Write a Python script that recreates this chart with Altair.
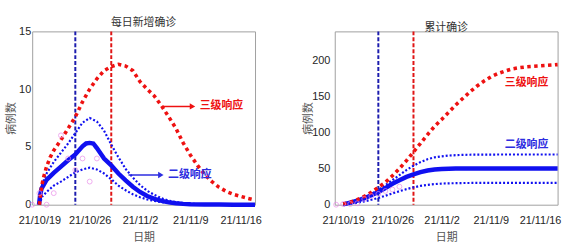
import altair as alt
import pandas as pd

CJK = "Noto Sans CJK SC"
NUM = "Liberation Sans Narrow, Liberation Sans, Arial"

# ---- x tick labels (days since 2021-10-18) ----
tick_days = [1, 8, 15, 22, 29]
tick_labels = ["21/10/19", "21/10/26", "21/11/2", "21/11/9", "21/11/16"]

# response start lines (days since 2021-10-18)
level2_day = 6   # 二级响应 (blue)
level3_day = 11  # 三级响应 (red)

# ---- observed cases (pink circles) ----
obs_days = [0, 1, 2, 3, 4, 5, 6, 7, 8, 9]
obs_daily = [0, 1, 0, 1, 6, 4, 3, 4, 2, 4]
obs_cum = [0, 1, 1, 2, 8, 12, 15, 19, 21, 25]

# ---- daily new cases ----
red_d_x = [1.0, 1.15, 1.35, 1.6, 2.0, 2.5, 3, 4, 5, 6, 7, 8, 9, 10, 11, 12, 13, 14, 15, 16,
           17, 18, 19, 20, 21, 22, 23, 24, 25, 26, 27, 28, 29, 30, 31]
red_d_y = [0, 0.8, 1.7, 2.4, 3.3, 4.1, 4.7, 5.6, 6.6, 7.6, 8.9, 10.0, 10.9, 11.6, 11.95, 12.15,
           12.0, 11.6, 10.65, 10.0, 9.4, 8.55, 7.6, 6.6, 5.35, 4.3, 3.4, 2.6, 2.0, 1.5, 1.15,
           0.9, 0.72, 0.55, 0.4]

blue_d_x = [0.95, 1.1, 1.3, 2, 3, 4, 5, 6, 7, 7.5, 8, 8.5, 9, 10, 11, 12, 13, 14, 15, 16, 17,
            18, 19, 20, 21, 22, 24, 26, 28, 31]
blue_d_y = [0, 0.8, 1.4, 2.15, 2.75, 3.3, 3.85, 4.35, 5.05, 5.3, 5.35, 5.3, 4.9, 4.0, 3.4,
            2.7, 2.1, 1.55, 1.1, 0.75, 0.5, 0.33, 0.2, 0.12, 0.07, 0.04, 0.02, 0.01, 0, 0]

up_d_x = [1.0, 1.4, 2, 3, 4, 5, 6, 7, 8, 9, 10, 11, 12, 13, 14, 15, 16, 17, 18, 19, 20, 21,
          23, 26, 31]
up_d_y = [0, 1.8, 2.7, 3.7, 4.5, 5.3, 6.2, 7.1, 7.5, 7.2, 6.4, 5.2, 4.1, 3.1, 2.35, 1.7, 1.2,
          0.85, 0.55, 0.35, 0.22, 0.13, 0.05, 0.01, 0]

lo_d_x = [1.0, 1.4, 2, 3, 4, 5, 6, 7, 8, 9, 10, 11, 12, 13, 14, 15, 16, 17, 18, 19, 20, 21,
          23, 26, 31]
lo_d_y = [0, 0.7, 1.1, 1.65, 2.0, 2.4, 2.8, 3.05, 3.2, 3.05, 2.7, 2.2, 1.65, 1.25, 0.9, 0.65,
          0.45, 0.32, 0.22, 0.15, 0.1, 0.06, 0.03, 0.01, 0]

# ---- cumulative cases ----
cum_x = [1, 2, 3, 4, 5, 6, 7, 8, 9, 10, 11, 12, 13, 14, 15, 16, 17, 18, 19, 20, 21, 22, 23,
         24, 25, 26, 27, 28, 29, 30, 31, 31.5]
red_c_y = [1, 3.5, 7, 11.5, 17, 24, 31, 40, 50, 61, 73, 85, 97, 108.5, 118, 128, 138, 147, 156,
           164, 171, 177, 181.5, 185, 188, 189.7, 190.8, 191.6, 192.3, 193, 193.6, 194]
blue_c_y = [0.5, 2.8, 5.5, 9, 13, 17.5, 23, 29, 34, 38.5, 42, 45, 47.3, 48.7, 49.4, 49.8, 50,
            50, 50, 50, 50, 50, 50, 50, 50, 50, 50, 50, 50, 50, 50, 50]
up_c_y = [0.5, 2.5, 5.8, 10, 15, 20.5, 27, 34, 41, 48, 54, 59, 63, 65.5, 67, 68, 68.6, 69,
          69.2, 69.3, 69.4, 69.4, 69.5, 69.5, 69.5, 69.5, 69.5, 69.5, 69.5, 69.5, 69.5, 69.5]
lo_c_y = [0.3, 1.2, 2.7, 4.6, 6.8, 9.4, 12.4, 15.6, 18.7, 21.5, 24, 26, 27.5, 28.5, 29.2, 29.6,
          29.8, 30, 30.1, 30.1, 30.2, 30.2, 30.2, 30.2, 30.2, 30.2, 30.2, 30.2, 30.2, 30.2,
          30.2, 30.2]

# ---- annotations ----
lbl3 = "三级响应"
lbl2 = "二级响应"
ann_left = {"red": {"x0": 18.2, "x1": 22.3, "y": 8.5, "tx": 23.3},
            "blue": {"x0": 13.4, "x1": 17.9, "y": 2.57, "tx": 18.9}}
ann_right = {"red": {"tx": 24.0, "y": 169}, "blue": {"tx": 24.0, "y": 83}}

RED = "#ee1111"
BLUE = "#1010f0"
BLUE_T = "#2d2de0"
VBLUE = "#1c1cae"
VRED = "#e01515"
PINK = "#e98ae9"


def df(xs, ys):
    return pd.DataFrame({"day": xs, "v": ys})


def panel(title, xdom, ydom, yvals, ylp, ytx, series, obs_y, anns, arrows):
    xenc = alt.X("day:Q", scale=alt.Scale(domain=xdom, nice=False, zero=False),
                 axis=alt.Axis(values=tick_days, title="日期", labelPadding=10, titlePadding=6,
                               labelExpr="%s[indexof(%s, datum.value)]" % (
                                   str(tick_labels), str(tick_days))))
    yenc = alt.Y("v:Q", scale=alt.Scale(domain=ydom, nice=False),
                 axis=alt.Axis(values=yvals, title="病例数", labelPadding=ylp, titlePadding=0,
                               titleX=ytx, titleBaseline="bottom"))
    layers = []
    vl = pd.DataFrame({"day": [level2_day, level3_day], "c": [VBLUE, VRED]})
    layers.append(alt.Chart(vl).mark_rule(strokeWidth=2, strokeDash=[4, 2]).encode(
        x=xenc, color=alt.Color("c:N", scale=None)))
    red, up, mid, lo = series
    layers.append(alt.Chart(df(*lo)).mark_line(color=BLUE, strokeWidth=2.2, strokeDash=[2, 2])
                  .encode(x=xenc, y=yenc))
    layers.append(alt.Chart(df(*up)).mark_line(color=BLUE, strokeWidth=2.2, strokeDash=[2, 2])
                  .encode(x=xenc, y=yenc))
    layers.append(alt.Chart(df(*mid)).mark_line(color=BLUE, strokeWidth=4.5)
                  .encode(x=xenc, y=yenc))
    layers.append(alt.Chart(df(*red)).mark_line(color=RED, strokeWidth=3.6, strokeDash=[3.5, 3.5],
                                                strokeCap="butt").encode(x=xenc, y=yenc))
    obs = df(obs_days, obs_y)
    layers.append(alt.Chart(obs).mark_point(shape="circle", size=24, strokeWidth=1,
                                            color=PINK, filled=False).encode(x=xenc, y=yenc))
    for key, col, txt in (("red", RED, lbl3), ("blue", BLUE_T, lbl2)):
        a = anns[key]
        if arrows:
            ad = pd.DataFrame({"day": [a["x0"]], "day2": [a["x1"]], "v": [a["y"]]})
            layers.append(alt.Chart(ad).mark_rule(color=col, strokeWidth=1.5).encode(
                x=xenc, x2="day2:Q", y=yenc))
            hd = pd.DataFrame({"day": [a["x1"]], "v": [a["y"]]})
            layers.append(alt.Chart(hd).mark_point(shape="triangle-right", size=40, filled=True,
                                                   color=col, opacity=1).encode(x=xenc, y=yenc))
        td = pd.DataFrame({"day": [a["tx"]], "v": [a["y"]], "t": [txt]})
        layers.append(alt.Chart(td).mark_text(align="left", baseline="middle", font=CJK,
                                              fontSize=11, fontWeight="bold", color=col)
                      .encode(x=xenc, y=yenc, text="t:N"))
    return alt.layer(*layers).properties(
        width=225, height=175,
        title=alt.TitleParams(title, font=CJK, fontSize=11, fontWeight="normal",
                              color="#333333", offset=-3))


left = panel("每日新增确诊", [0, 31], [0, 15], [0, 5, 10, 15], 1.5, -15.5,
             [(red_d_x, red_d_y), (up_d_x, up_d_y), (blue_d_x, blue_d_y), (lo_d_x, lo_d_y)],
             obs_daily, ann_left, True)
right = panel("累计确诊", [-0.2, 31.5], [0, 240], [0, 50, 100, 150, 200], 5, -21.5,
              [(cum_x, red_c_y), (cum_x, up_c_y), (cum_x, blue_c_y), (cum_x, lo_c_y)],
              obs_cum, ann_right, False)

chart = alt.hconcat(left, right, spacing=37.5).properties(
    padding={"left": 5.5, "top": 15.5, "right": 0, "bottom": 0},
    background="#ffffff",
).configure_view(stroke="#a0a0a0", strokeWidth=1).configure_axis(
    domain=False, ticks=False, grid=False,
    labelFont=NUM, labelFontSize=11, labelColor="#262626",
    titleFont=CJK, titleFontSize=11, titleColor="#555555", titleFontWeight="normal",
)

chart.save("out.html", embed_options={"renderer": "svg", "actions": False})
